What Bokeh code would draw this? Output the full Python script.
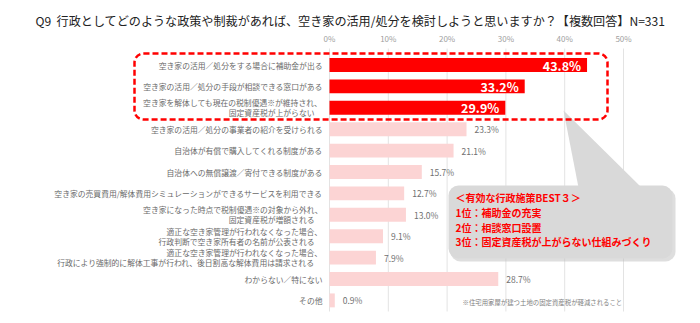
from bokeh.plotting import figure
from bokeh.models import Range1d, ColumnDataSource, BoxAnnotation
from bokeh.core.properties import value
from bokeh.embed import file_html
from bokeh.resources import INLINE

# ---------------- data ----------------
categories = [
    "空き家の活用／処分をする場合に補助金が出る",
    "空き家の活用／処分の手段が相談できる窓口がある",
    "空き家を解体しても現在の税制優遇※が維持され、\n固定資産税が上がらない",
    "空き家の活用／処分の事業者の紹介を受けられる",
    "自治体が有償で購入してくれる制度がある",
    "自治体への無償譲渡／寄付できる制度がある",
    "空き家の売買費用/解体費用シミュレーションができるサービスを利用できる",
    "空き家になった時点で税制優遇※の対象から外れ、\n固定資産税が増額される",
    "適正な空き家管理が行われなくなった場合、\n行政判断で空き家所有者の名前が公表される",
    "適正な空き家管理が行われなくなった場合、\n行政により強制的に解体工事が行われ、後日割高な解体費用は請求される",
    "わからない／特にない",
    "その他",
]
values = [43.8, 33.2, 29.9, 23.3, 21.1, 15.7, 12.7, 13.0, 9.1, 7.9, 28.7, 0.9]
top_n = 3
ticks = [0, 10, 20, 30, 40, 50]
tick_labels = ["0%", "10%", "20%", "30%", "40%", "50%"]
title = "Q9\u00a0\u00a0行政としてどのような政策や制裁があれば、空き家の活用/処分を検討しようと思いますか？【複数回答】N=331"
callout_lines = [
    "＜有効な行政施策BEST３＞",
    "1位：補助金の充実",
    "2位：相談窓口設置",
    "3位：固定資産税が上がらない仕組みづくり",
]
footnote = "※住宅用家屋が建つ土地の固定資産税が軽減されること"

# ---------------- layout helpers ----------------
W, H = 700, 323
X0, XS = 329.0, 5.88      # px of 0%, px per 1%
Y0, YS = 64.5, 21.4       # px of first row centre, px per row


def px2x(px):
    return (px - X0) / XS


def py2y(py):
    return (py - Y0) / YS


JP = "Noto Sans CJK JP"
RED = "#ff0000"
PINK = "#fcd4d4"

p = figure(width=W, height=H, output_backend="svg", toolbar_location=None,
           x_axis_location=None, y_axis_location=None, min_border=0,
           x_range=Range1d(px2x(0), px2x(W)), y_range=Range1d(py2y(H), py2y(0)))
p.outline_line_color = None
p.grid.visible = False
p.background_fill_color = "white"
p.border_fill_color = "white"

# gridlines
p.segment(x0=ticks, x1=ticks, y0=[py2y(48)] * len(ticks), y1=[py2y(311)] * len(ticks),
          line_color="#e3e3e3", line_width=1)
p.text(x=ticks, y=[py2y(38)] * len(ticks), text=tick_labels, text_align="center",
       text_baseline="middle", text_font=value(JP), text_font_size="8px", text_color="#a0a0a0")

# bars
rows = list(range(len(values)))
colors = [RED if i < top_n else PINK for i in rows]
p.hbar(y=rows, right=values, left=0, height=0.65, fill_color=colors, line_color=None)

# value labels
inner = ColumnDataSource(dict(x=values[:top_n], y=rows[:top_n],
                              t=["%.1f%%" % v for v in values[:top_n]]))
p.text(x="x", y="y", text="t", source=inner, text_align="right", text_baseline="middle",
       x_offset=-6, text_font=value(JP), text_font_size="12.5px", text_font_style="bold",
       text_color="white")
outer = ColumnDataSource(dict(x=values[top_n:], y=rows[top_n:],
                              t=["%.1f%%" % v for v in values[top_n:]]))
p.text(x="x", y="y", text="t", source=outer, text_align="left", text_baseline="middle",
       x_offset=8, text_font=value(JP), text_font_size="8.5px", text_color="#707070")

# category labels (line by line)
lx, ly, lt, lo = [], [], [], []
for i, lab in enumerate(categories):
    parts = lab.split("\n")
    n = len(parts)
    for j, s in enumerate(parts):
        lx.append(0)
        ly.append(i + (j - (n - 1) / 2) * 10.0 / YS)
        lt.append(s)
        lo.append(-7 if j == 0 else -15)
lab_src = ColumnDataSource(dict(x=lx, y=ly, t=lt, o=lo))
p.text(x="x", y="y", text="t", x_offset="o", source=lab_src, text_align="right",
       text_baseline="middle", text_font=value(JP), text_font_size="7.8px",
       text_color="#6a6a6a")

# dashed highlight frame
p.add_layout(BoxAnnotation(left=px2x(134), right=px2x(607), top=py2y(53), bottom=py2y(119),
                           fill_alpha=0, line_color=RED, line_alpha=1, line_width=2.5,
                           line_dash="6 3", border_radius=9))

# callout pointer
p.patch(x=[px2x(563), px2x(578), px2x(641)], y=[py2y(110), py2y(187), py2y(187)],
        fill_color="#d9d9d9", line_color=None)
# callout shadow + box
p.add_layout(BoxAnnotation(left=px2x(450), right=px2x(675), top=py2y(188), bottom=py2y(261),
                           fill_color="#bdbdbd", fill_alpha=0.5, line_color=None,
                           border_radius=10))
p.add_layout(BoxAnnotation(left=px2x(448), right=px2x(672), top=py2y(185), bottom=py2y(258),
                           fill_color="#d9d9d9", fill_alpha=1, line_color=None,
                           border_radius=10))
co_src = ColumnDataSource(dict(x=[px2x(455)] * 4,
                               y=[py2y(197), py2y(212), py2y(226.5), py2y(241)],
                               t=callout_lines))
p.text(x="x", y="y", text="t", source=co_src, text_align="left", text_baseline="middle",
       text_font=value(JP), text_font_size="10px", text_font_style="bold",
       text_color=RED, level="overlay")

# footnote
p.text(x=[px2x(462)], y=[py2y(302)], text=[footnote], text_align="left", text_baseline="middle",
       text_font=value(JP), text_font_size="6.4px", text_color="#808080")

# title
p.text(x=[px2x(35)], y=[py2y(20)], text=[title], text_align="left", text_baseline="middle",
       text_font=value(JP), text_font_size="12.1px", text_color="#222222")

open("out.html", "w").write(file_html(p, INLINE))
